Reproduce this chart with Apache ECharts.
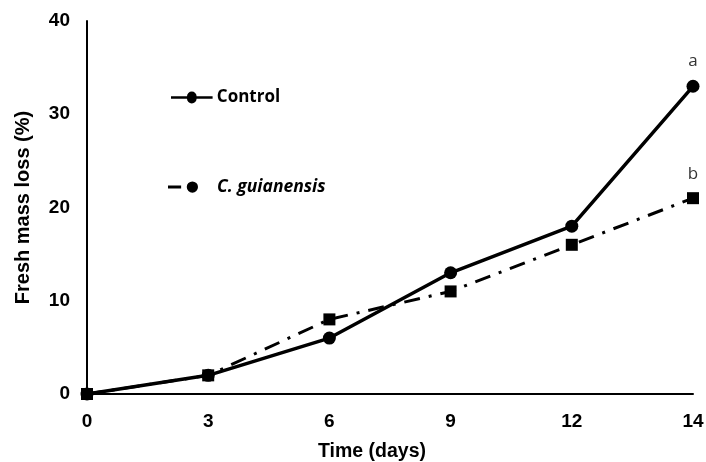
<!DOCTYPE html>
<html>
<head>
<meta charset="utf-8">
<script src="https://cdn.jsdelivr.net/npm/echarts@6/dist/echarts.min.js"></script>
<style>
  html, body { margin: 0; padding: 0; background: #fff; }
  #main { width: 706px; height: 462px; }
</style>
</head>
<body>
<div id="main"></div>
<script>
var days = ['0', '3', '6', '9', '12', '14'];
var control = [0, 2, 6, 13, 18, 33];
var guianensis = [0, 2, 8, 11, 16, 21];
var letters = ['a', 'b'];

// legend icons: line with a dot in the middle
var iconControl = 'path://M0,4.5L20,4.5A6,6,0,0,1,32,4.5L52,4.5L52,7.5L32,7.5A6,6,0,0,1,20,7.5L0,7.5Z';
var iconGuian = 'path://M0,4.5L14,4.5L14,7.5L0,7.5ZM20,6A6,6,0,1,0,32,6A6,6,0,1,0,20,6Z';

function lastLabel(values, text) {
  return values.map(function (v, i) {
    if (i !== values.length - 1) return v;
    return {
      value: v,
      label: {
        show: true, position: 'top', distance: 10, formatter: text,
        fontFamily: 'Open Sans', fontSize: 17, color: '#333'
      }
    };
  });
}

var myChart = echarts.init(document.getElementById('main'));
myChart.setOption({
  animation: false,
  backgroundColor: '#fff',
  textStyle: { fontFamily: 'Liberation Sans' },
  grid: { left: 87, right: 13, top: 21, bottom: 68, containLabel: false, outerBoundsMode: 'none' },
  legend: [{
    left: 166, top: 84, data: ['Control'], icon: iconControl,
    itemWidth: 46, itemHeight: 12, itemGap: 0,
    textStyle: { fontFamily: 'Open Sans', fontWeight: 'bold', fontSize: 17, color: '#000', padding: [0, 0, 0, -3] }
  }, {
    left: 163, top: 173, data: ['C. guianensis'], icon: iconGuian,
    itemWidth: 30, itemHeight: 12,
    textStyle: { fontFamily: 'Open Sans', fontWeight: 'bold', fontStyle: 'italic', fontSize: 17.5, color: '#000', padding: [0, 0, 0, 14] }
  }],
  xAxis: {
    type: 'category',
    data: days,
    boundaryGap: false,
    name: 'Time (days)',
    nameLocation: 'middle',
    nameGap: 48,
    nameTextStyle: { fontWeight: 'bold', fontSize: 19.5, color: '#000', padding: [0, 36, 0, 0] },
    axisLine: { lineStyle: { color: '#000', width: 2 } },
    axisTick: { show: false },
    axisLabel: { fontWeight: 'bold', fontSize: 19, color: '#000', margin: 18 },
    splitLine: { show: false }
  },
  yAxis: {
    type: 'value',
    min: 0, max: 40, interval: 10,
    name: 'Fresh mass loss (%)',
    nameLocation: 'middle',
    nameGap: 54,
    nameTextStyle: { fontWeight: 'bold', fontSize: 20, color: '#000' },
    axisLine: { show: true, lineStyle: { color: '#000', width: 2 } },
    axisTick: { show: false },
    axisLabel: { fontWeight: 'bold', fontSize: 19, color: '#000', margin: 17 },
    splitLine: { show: false }
  },
  series: [{
    name: 'C. guianensis',
    type: 'line',
    data: lastLabel(guianensis, letters[1]),
    symbol: 'rect',
    symbolSize: 12,
    itemStyle: { color: '#000' },
    lineStyle: { color: '#000', width: 3, type: [16, 9, 3, 9] },
    z: 2
  }, {
    name: 'Control',
    type: 'line',
    data: lastLabel(control, letters[0]),
    symbol: 'circle',
    symbolSize: 13,
    itemStyle: { color: '#000' },
    lineStyle: { color: '#000', width: 3.5 },
    z: 3
  }]
});
</script>
</body>
</html>
